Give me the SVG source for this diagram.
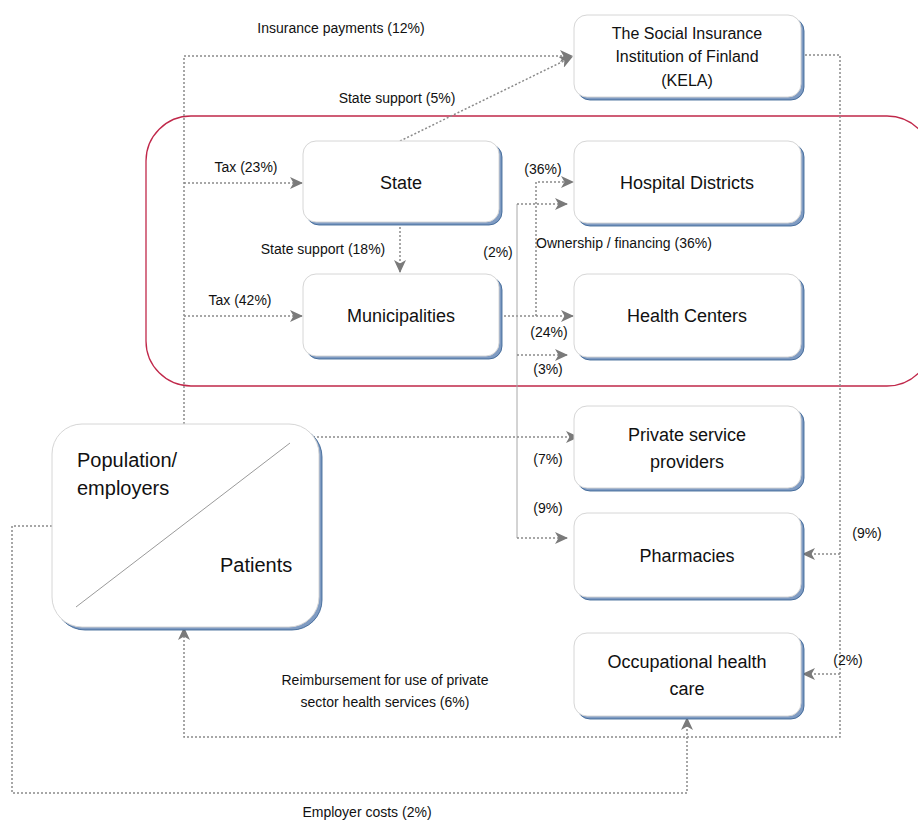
<svg xmlns="http://www.w3.org/2000/svg" width="918" height="823" viewBox="0 0 918 823">
<style>
  .box { fill: #ffffff; stroke: #d6d6d6; stroke-width: 1; }
  .shadow { fill: #7f9bc2; stroke: #2f5a8e; stroke-width: 0.8; }
  .node { font-family: "Liberation Sans", Arial, sans-serif; font-size: 18px; fill: #111; text-anchor: middle; }
  .kela { font-size: 16px; }
  .lbl { font-family: "Liberation Sans", Arial, sans-serif; font-size: 14px; fill: #111; text-anchor: middle; }
  .dot { fill: none; stroke: #8a8a8a; stroke-width: 1.5; stroke-dasharray: 2 2; }
  .thin { fill: none; stroke: #a8a8a8; stroke-width: 1; }
</style>
<defs>
  <marker id="arr" markerWidth="13" markerHeight="12" refX="12" refY="6" orient="auto" markerUnits="userSpaceOnUse">
    <path d="M0,0 L13,6 L0,12 L3.5,6 z" fill="#7a7a7a"/>
  </marker>
</defs>
<rect id="container" x="146" y="116" width="786" height="270" rx="45" fill="none" stroke="#c0284a" stroke-width="1.3"/>
<g id="connectors">
  <path class="dot" d="M184,424 V56 H572" marker-end="url(#arr)"/>
  <path class="dot" d="M400,141 L572,57" marker-end="url(#arr)"/>
  <path class="dot" d="M184,183 H302" marker-end="url(#arr)"/>
  <path class="dot" d="M184,316 H302" marker-end="url(#arr)"/>
  <path class="dot" d="M400,223 V272" marker-end="url(#arr)"/>
  <path class="dot" d="M500,316 H573" marker-end="url(#arr)"/>
  <path class="dot" d="M536,316 V182 H573" marker-end="url(#arr)"/>
  <path class="thin" d="M517,204 V538"/>
  <path class="dot" d="M517,204 H567" marker-end="url(#arr)"/>
  <path class="dot" d="M517,355 H567" marker-end="url(#arr)"/>
  <path class="dot" d="M517,538 H567" marker-end="url(#arr)"/>
  <path class="dot" d="M313,437 H578" marker-end="url(#arr)"/>
  <path class="dot" d="M801,55 H840 V737 H184 V628" marker-end="url(#arr)"/>
  <path class="dot" d="M840,554 H803" marker-end="url(#arr)"/>
  <path class="dot" d="M840,674 H803" marker-end="url(#arr)"/>
  <path class="dot" d="M52,526 H12 V793 H687 V718" marker-end="url(#arr)"/>
</g>
<g id="kela">
  <rect class="shadow" x="577" y="18" width="227" height="82" rx="13"/>
  <rect class="box" x="574" y="15" width="227" height="82" rx="13"/>
  <text class="node kela" x="687" y="39">The Social Insurance</text>
  <text class="node kela" x="687" y="62">Institution of Finland</text>
  <text class="node kela" x="687" y="86">(KELA)</text>
</g>
<g id="state">
  <rect class="shadow" x="306" y="144" width="196" height="81" rx="13"/>
  <rect class="box" x="303" y="141" width="196" height="81" rx="13"/>
  <text class="node" x="401" y="189">State</text>
</g>
<g id="municipalities">
  <rect class="shadow" x="306" y="277" width="196" height="82" rx="13"/>
  <rect class="box" x="303" y="274" width="196" height="82" rx="13"/>
  <text class="node" x="401" y="322">Municipalities</text>
</g>
<g id="hospital-districts">
  <rect class="shadow" x="577" y="144" width="227" height="82" rx="13"/>
  <rect class="box" x="574" y="141" width="227" height="82" rx="13"/>
  <text class="node" x="687" y="189">Hospital Districts</text>
</g>
<g id="health-centers">
  <rect class="shadow" x="577" y="277" width="227" height="83" rx="13"/>
  <rect class="box" x="574" y="274" width="227" height="83" rx="13"/>
  <text class="node" x="687" y="322">Health Centers</text>
</g>
<g id="private-service-providers">
  <rect class="shadow" x="577" y="409" width="227" height="82" rx="13"/>
  <rect class="box" x="574" y="406" width="227" height="82" rx="13"/>
  <text class="node" x="687" y="441">Private service</text>
  <text class="node" x="687" y="468">providers</text>
</g>
<g id="pharmacies">
  <rect class="shadow" x="577" y="516" width="227" height="84" rx="13"/>
  <rect class="box" x="574" y="513" width="227" height="84" rx="13"/>
  <text class="node" x="687" y="562">Pharmacies</text>
</g>
<g id="occupational-health-care">
  <rect class="shadow" x="577" y="636" width="227" height="83" rx="13"/>
  <rect class="box" x="574" y="633" width="227" height="83" rx="13"/>
  <text class="node" x="687" y="668">Occupational health</text>
  <text class="node" x="687" y="695">care</text>
</g>
<g id="population-patients">
  <rect class="shadow" x="55" y="427" width="267" height="203" rx="30"/>
  <rect class="box" x="52" y="424" width="267" height="203" rx="30"/>
  <line x1="76" y1="607" x2="290" y2="443" stroke="#9a9a9a" stroke-width="1"/>
  <text class="node" style="font-size:20px;text-anchor:start" x="77" y="467">Population/</text>
  <text class="node" style="font-size:20px;text-anchor:start" x="77" y="495">employers</text>
  <text class="node" style="font-size:20px;text-anchor:start" x="220" y="572">Patients</text>
</g>
<g id="labels">
  <text class="lbl" x="341" y="33">Insurance payments (12%)</text>
  <text class="lbl" x="397" y="103">State support (5%)</text>
  <text class="lbl" x="246" y="172">Tax (23%)</text>
  <text class="lbl" x="240" y="305">Tax (42%)</text>
  <text class="lbl" x="323" y="254">State support (18%)</text>
  <text class="lbl" x="543" y="174">(36%)</text>
  <text class="lbl" x="498" y="257">(2%)</text>
  <text class="lbl" style="text-anchor:start" x="536" y="248">Ownership / financing (36%)</text>
  <text class="lbl" x="549" y="337">(24%)</text>
  <text class="lbl" x="548" y="374">(3%)</text>
  <text class="lbl" x="548" y="464">(7%)</text>
  <text class="lbl" x="548" y="513">(9%)</text>
  <text class="lbl" x="867" y="538">(9%)</text>
  <text class="lbl" x="848" y="665">(2%)</text>
  <text class="lbl" x="385" y="685">Reimbursement for use of private</text>
  <text class="lbl" x="385" y="707">sector health services (6%)</text>
  <text class="lbl" x="367" y="817">Employer costs (2%)</text>
</g>
</svg>
